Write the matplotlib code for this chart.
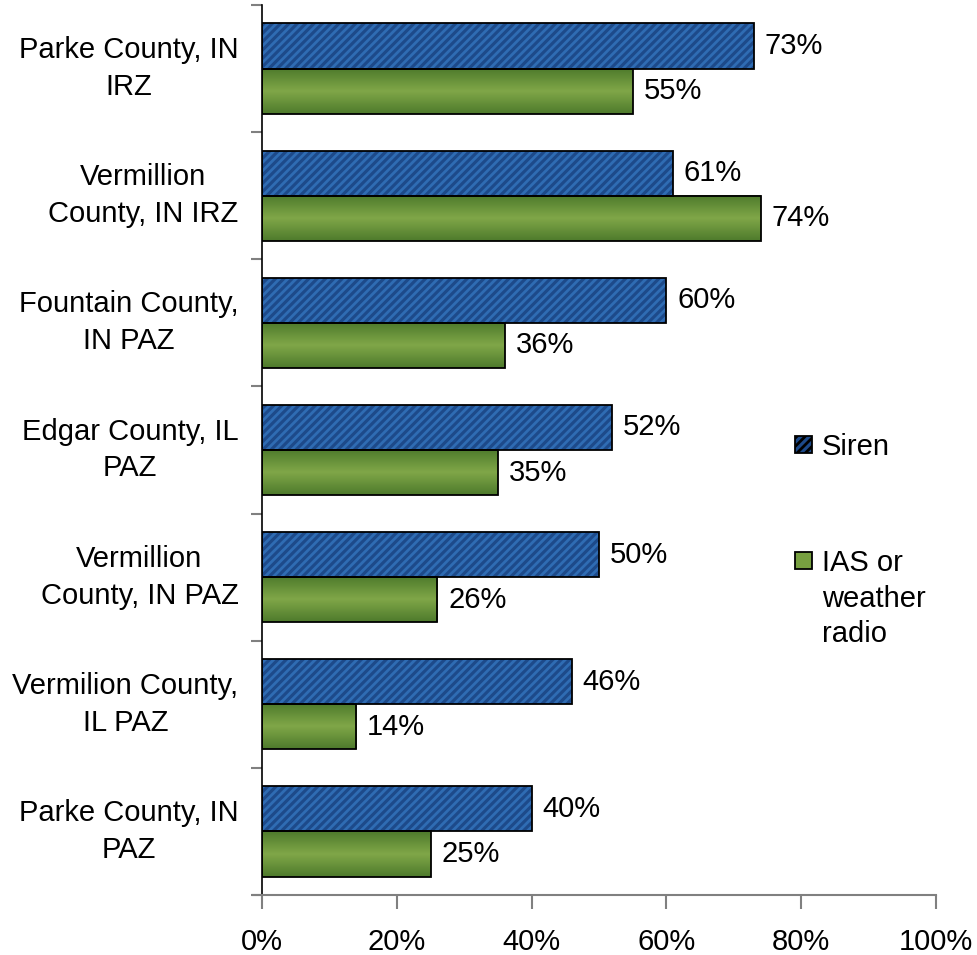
import numpy as np
import matplotlib.pyplot as plt
from matplotlib.colors import LinearSegmentedColormap
from matplotlib.patches import Rectangle

plt.rcParams['font.family'] = ['Liberation Sans', 'DejaVu Sans']
plt.rcParams['hatch.linewidth'] = 2.0

categories = ['Parke County, IN\nIRZ', 'Vermillion\nCounty, IN IRZ', 'Fountain County,\nIN PAZ',
              'Edgar County, IL\nPAZ', 'Vermillion\nCounty, IN PAZ', 'Vermilion County,\nIL PAZ',
              'Parke County, IN\nPAZ']
siren = [73, 61, 60, 52, 50, 46, 40]
ias = [55, 74, 36, 35, 26, 14, 25]
series_names = ['Siren', 'IAS or\nweather\nradio']

W, H = 977, 955
fig = plt.figure(figsize=(W / 100, H / 100), dpi=100)
ax = fig.add_axes([262 / W, 1 - 895 / H, (936 - 262) / W, 890 / H])

y = np.arange(len(categories))[::-1].astype(float)
h = 0.355
blue, blue_hatch = '#1d4a8a', '#2f6cb3'

# siren bars: dark blue with lighter diagonal stripes
ax.barh(y + h / 2, siren, height=h, color=blue, edgecolor=blue_hatch, hatch='////',
        linewidth=0, zorder=2)
ax.barh(y + h / 2, siren, height=h, fill=False, edgecolor='black', linewidth=1.3, zorder=3)

# IAS bars: green with vertical gradient
green = LinearSegmentedColormap.from_list('g', ['#4e7a2c', '#80a748', '#4e7a2c'])
grad = np.linspace(0, 1, 64).reshape(-1, 1)
gbars = ax.barh(y - h / 2, ias, height=h, color='none', edgecolor='black', linewidth=1.3, zorder=3)
for b in gbars:
    x0, y0 = b.get_x(), b.get_y()
    ax.imshow(grad, cmap=green, extent=[x0, x0 + b.get_width(), y0, y0 + b.get_height()],
              aspect='auto', zorder=2, interpolation='bilinear')

fs = 21
for yi, v in zip(y, siren):
    ax.text(v + 1.6, yi + h / 2, f'{v}%', va='center', ha='left', fontsize=fs)
for yi, v in zip(y, ias):
    ax.text(v + 1.6, yi - h / 2, f'{v}%', va='center', ha='left', fontsize=fs)

ax.set_xlim(0, 100)
ax.set_ylim(-0.5, len(categories) - 0.5)
ax.set_xticks(range(0, 101, 20))
ax.set_xticklabels([f'{t}%' for t in range(0, 101, 20)], fontsize=fs)
ax.set_yticks(y)
ax.set_yticklabels(categories, fontsize=fs, multialignment='center', linespacing=1.4, va='center')
ax.set_yticks(np.arange(-0.5, len(categories), 1.0), minor=True)
ax.tick_params(axis='y', which='major', length=0, pad=17)
ax.tick_params(axis='y', which='minor', length=8, color='#808080', width=1.5)
ax.tick_params(axis='x', length=10, color='#808080', width=1.5, pad=14)

for s in ['top', 'right']:
    ax.spines[s].set_visible(False)
ax.spines['left'].set_color('black')
ax.spines['left'].set_linewidth(1.2)
ax.spines['bottom'].set_color('#808080')
ax.spines['bottom'].set_linewidth(1.5)
ax.spines['bottom'].set_bounds(-1.4, 100)

# legend, Excel style: marker aligned with the first line of each label
leg_tops = [436, 552]
for top, name, i in zip(leg_tops, series_names, range(2)):
    r = Rectangle((795 / W, 1 - (top + 17) / H), 17 / W, 17 / H, transform=fig.transFigure,
                  facecolor=blue if i == 0 else '#77a040', edgecolor='black', linewidth=1.3,
                  hatch='////' if i == 0 else None)
    fig.add_artist(r)
    fig.text(822 / W, 1 - (top - 3) / H, name, fontsize=fs, va='top', ha='left', linespacing=1.35)

fig.savefig('out.png', dpi=100)
